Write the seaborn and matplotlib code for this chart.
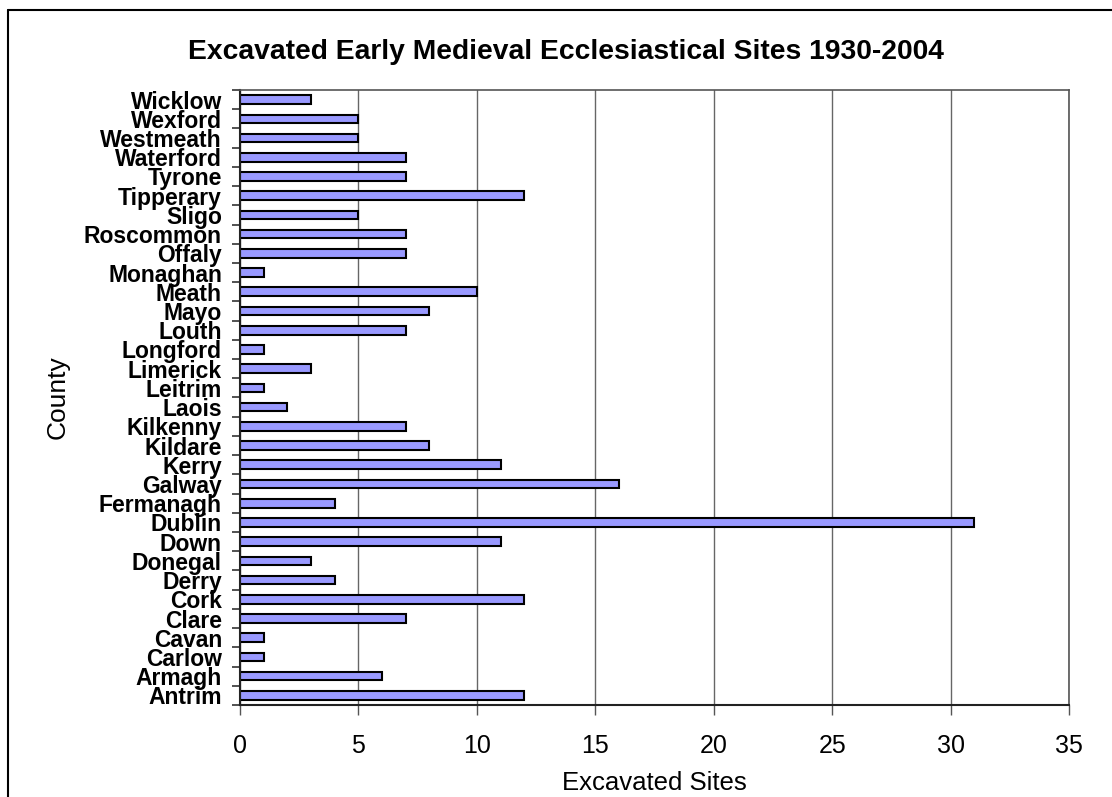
import matplotlib
matplotlib.use("Agg")
import matplotlib.pyplot as plt
import seaborn as sns
import pandas as pd
import numpy as np
from matplotlib.lines import Line2D

counties = ["Wicklow", "Wexford", "Westmeath", "Waterford", "Tyrone", "Tipperary",
            "Sligo", "Roscommon", "Offaly", "Monaghan", "Meath", "Mayo", "Louth",
            "Longford", "Limerick", "Leitrim", "Laois", "Kilkenny", "Kildare", "Kerry",
            "Galway", "Fermanagh", "Dublin", "Down", "Donegal", "Derry", "Cork",
            "Clare", "Cavan", "Carlow", "Armagh", "Antrim"]
sites = [3, 5, 5, 7, 7, 12, 5, 7, 7, 1, 10, 8, 7, 1, 3, 1, 2, 7, 8, 11,
         16, 4, 31, 11, 3, 4, 12, 7, 1, 1, 6, 12]
x_ticks = [0, 5, 10, 15, 20, 25, 30, 35]

df = pd.DataFrame({"County": counties, "Sites": sites})

sns.set_style("white")
plt.rcParams["font.family"] = ["Liberation Sans", "DejaVu Sans"]
plt.rcParams["text.color"] = "black"
plt.rcParams["axes.labelcolor"] = "black"
plt.rcParams["xtick.color"] = "black"
plt.rcParams["ytick.color"] = "black"

fig = plt.figure(figsize=(11.12, 7.97), dpi=100)
ax = fig.add_axes([240 / 1112, 92 / 797, 829 / 1112, 615 / 797])

sns.barplot(data=df, x="Sites", y="County", ax=ax, color="#9999FF",
            saturation=1, width=0.45, edgecolor="black", linewidth=1.5)

ax.set_xlim(0, 35)
ax.set_ylim(len(counties) - 0.5, -0.5)
ax.set_xticks(x_ticks)
ax.set_xticklabels([str(t) for t in x_ticks], fontsize=18)
ax.grid(axis="x", color="#666666", linewidth=1.0)
ax.set_axisbelow(True)

# category boundary ticks, as in the spreadsheet style
ax.set_yticks(np.arange(len(counties)))
ax.set_yticklabels(counties, fontsize=16.5, fontweight="bold")
ax.set_yticks(np.arange(len(counties) + 1) - 0.5, minor=True)
ax.tick_params(axis="y", which="major", length=0, pad=13)
ax.tick_params(axis="y", which="minor", length=6, width=1.2, color="#333333", left=True)
ax.tick_params(axis="x", which="major", length=7, width=1.0, color="#555555",
               bottom=True, pad=14)

for side in ["left", "bottom"]:
    ax.spines[side].set_color("#222222")
    ax.spines[side].set_linewidth(1.5)
for side in ["top", "right"]:
    ax.spines[side].set_color("#555555")
    ax.spines[side].set_linewidth(1.2)

ax.set_xlabel("Excavated Sites", fontsize=18.5, labelpad=9)
ax.set_ylabel("County", fontsize=19)
ax.yaxis.set_label_coords(-0.206, 0.5)

fig.text(566 / 1112, 1 - 52 / 797,
         "Excavated Early Medieval Ecclesiastical Sites 1930-2004",
         ha="center", va="center", fontsize=20.3, fontweight="bold")

# outer chart frame (cropped at right and bottom)
fig.add_artist(Line2D([8 / 1112, 8 / 1112], [0, 1 - 10 / 797],
                      transform=fig.transFigure, color="black", linewidth=1.5))
fig.add_artist(Line2D([8 / 1112, 1], [1 - 10 / 797, 1 - 10 / 797],
                      transform=fig.transFigure, color="black", linewidth=1.5))

fig.savefig("out.png", dpi=100)
